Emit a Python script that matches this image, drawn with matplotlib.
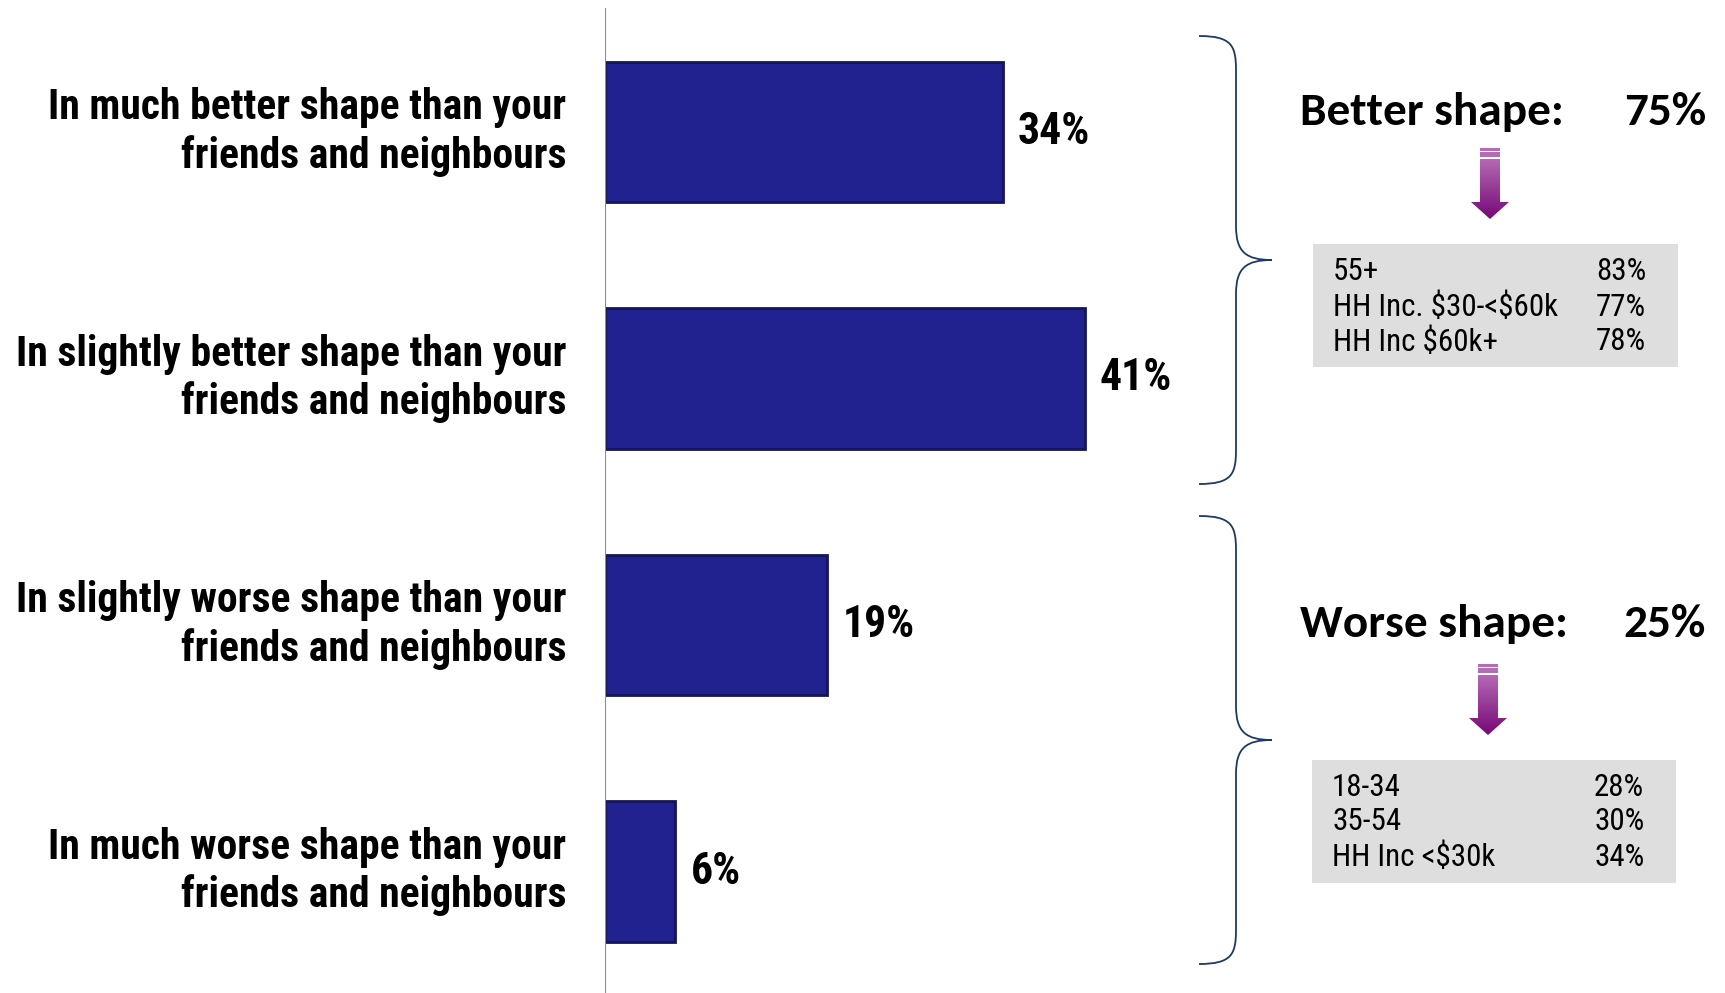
import matplotlib
matplotlib.use("Agg")
import matplotlib.pyplot as plt
import numpy as np
from matplotlib.path import Path
from matplotlib.patches import PathPatch, Rectangle, Polygon

# ---------------- data ----------------
categories = [
    "In much better shape than your\nfriends and neighbours",
    "In slightly better shape than your\nfriends and neighbours",
    "In slightly worse shape than your\nfriends and neighbours",
    "In much worse shape than your\nfriends and neighbours",
]
values = [34, 41, 19, 6]
value_labels = ["34%", "41%", "19%", "6%"]

summary_titles = ["Better shape:", "Worse shape:"]
summary_values = ["75%", "25%"]
better_groups = ["55+", "HH Inc. $30-<$60k", "HH Inc $60k+"]
better_pcts = ["83%", "77%", "78%"]
worse_groups = ["18-34", "35-54", "HH Inc <$30k"]
worse_pcts = ["28%", "30%", "34%"]

# ---------------- figure ----------------
W, H = 1725, 993
fig = plt.figure(figsize=(W / 100, H / 100), dpi=100)

NARROW = ["Roboto Condensed", "DejaVu Sans"]
HEAD = ["Carlito", "DejaVu Sans"]

# bar axes: x=0 at 605 px, 11.7 px per percent
x0 = 605
px_per = 11.7
ax = fig.add_axes([x0 / W, 0, 1 - x0 / W, 1])
ax.set_xlim(0, (W - x0) / px_per)
spacing = 246.5
first = 132
ax.set_ylim(3 + (H - (first + 3 * spacing)) / spacing, -first / spacing)

ypos = np.arange(len(values))
ax.barh(ypos, values, height=0.568, color="#21218f", edgecolor="#15155a", linewidth=2)
for y, v, lab in zip(ypos, values, value_labels):
    ax.text(v + 1.3, y, lab, va="center", ha="left", family=NARROW,
            fontweight="bold", fontsize=31.5, color="black")

ax.set_yticks(ypos)
ax.set_yticklabels(categories, family=NARROW, fontweight="bold", fontsize=30,
                   linespacing=1.2, ha="right", va="center")
ax.tick_params(axis="y", length=0, pad=28)
ax.set_xticks([])
for s in ax.spines.values():
    s.set_visible(False)
ax.axvline(0, ymin=0, ymax=1 - 9 / H, color="#8c8c8c", lw=1.5)

# overlay axes in pixel coords
ov = fig.add_axes([0, 0, 1, 1])
ov.set_xlim(0, W)
ov.set_ylim(H, 0)
ov.axis("off")


def brace(top, mid, bot, xtip=1199, xv=1236, xp=1272):
    verts = [
        (xtip, top),
        (xv - 4, top), (xv, top + 10), (xv, top + 34),
        (xv, mid - 34),
        (xv, mid - 8), (xv + 10, mid), (xp, mid),
        (xv + 10, mid), (xv, mid + 8), (xv, mid + 34),
        (xv, bot - 34),
        (xv, bot - 10), (xv - 4, bot), (xtip, bot),
    ]
    codes = [Path.MOVETO,
             Path.CURVE4, Path.CURVE4, Path.CURVE4,
             Path.LINETO,
             Path.CURVE4, Path.CURVE4, Path.CURVE4,
             Path.CURVE4, Path.CURVE4, Path.CURVE4,
             Path.LINETO,
             Path.CURVE4, Path.CURVE4, Path.CURVE4]
    ov.add_patch(PathPatch(Path(verts, codes), fill=False, edgecolor="#1f3864", lw=1.3))


brace(36, 260, 484)
brace(516, 740, 964)

grad = np.linspace(0, 1, 256).reshape(-1, 1)
top_c = np.array([181, 105, 181]) / 255
bot_c = np.array([118, 8, 118]) / 255
grad_img = top_c[None, None, :] * (1 - grad[:, :, None]) + bot_c[None, None, :] * grad[:, :, None]


def arrow(cx, ytop, yhead, ybot):
    ov.add_patch(Rectangle((cx - 10, ytop), 20, 2.5, color="#b46cb4", lw=0))
    ov.add_patch(Rectangle((cx - 10, ytop + 4), 20, 5, color="#b46cb4", lw=0))
    s0 = ytop + 11
    pts = [(cx - 10, s0), (cx + 10, s0), (cx + 10, yhead), (cx + 19, yhead),
           (cx, ybot), (cx - 19, yhead), (cx - 10, yhead)]
    poly = Polygon(pts, closed=True, facecolor="none", edgecolor="none")
    ov.add_patch(poly)
    im = ov.imshow(grad_img, extent=(cx - 20, cx + 20, ybot, s0), aspect="auto",
                   interpolation="bilinear", zorder=2)
    im.set_clip_path(poly)


def panel(title, total, ytitle, acx, aytop, groups, pcts, box, rows_y, xtext, xval):
    ov.text(1300, ytitle, title, family=HEAD, fontweight="bold", fontsize=34,
            va="center", ha="left")
    ov.text(1706, ytitle, total, family=HEAD, fontweight="bold", fontsize=34,
            va="center", ha="right")
    arrow(acx, aytop, aytop + 54, aytop + 71)
    bx0, by0, bx1, by1 = box
    ov.add_patch(Rectangle((bx0, by0), bx1 - bx0, by1 - by0, color="#dedede", lw=0))
    for g, p, yy in zip(groups, pcts, rows_y):
        ov.text(xtext, yy, g, family=NARROW, fontsize=22.3, va="center", ha="left",
                parse_math=False)
        ov.text(xval, yy, p, family=NARROW, fontsize=22.3, va="center", ha="left",
                parse_math=False)


panel(summary_titles[0], summary_values[0], 112, 1490, 148, better_groups, better_pcts,
      (1313, 244, 1678, 367), [272, 307, 342], 1333, 1596)
panel(summary_titles[1], summary_values[1], 624, 1488, 664, worse_groups, worse_pcts,
      (1312, 760, 1676, 883), [787, 822, 857], 1332, 1594)

fig.savefig("out.png", dpi=100)
